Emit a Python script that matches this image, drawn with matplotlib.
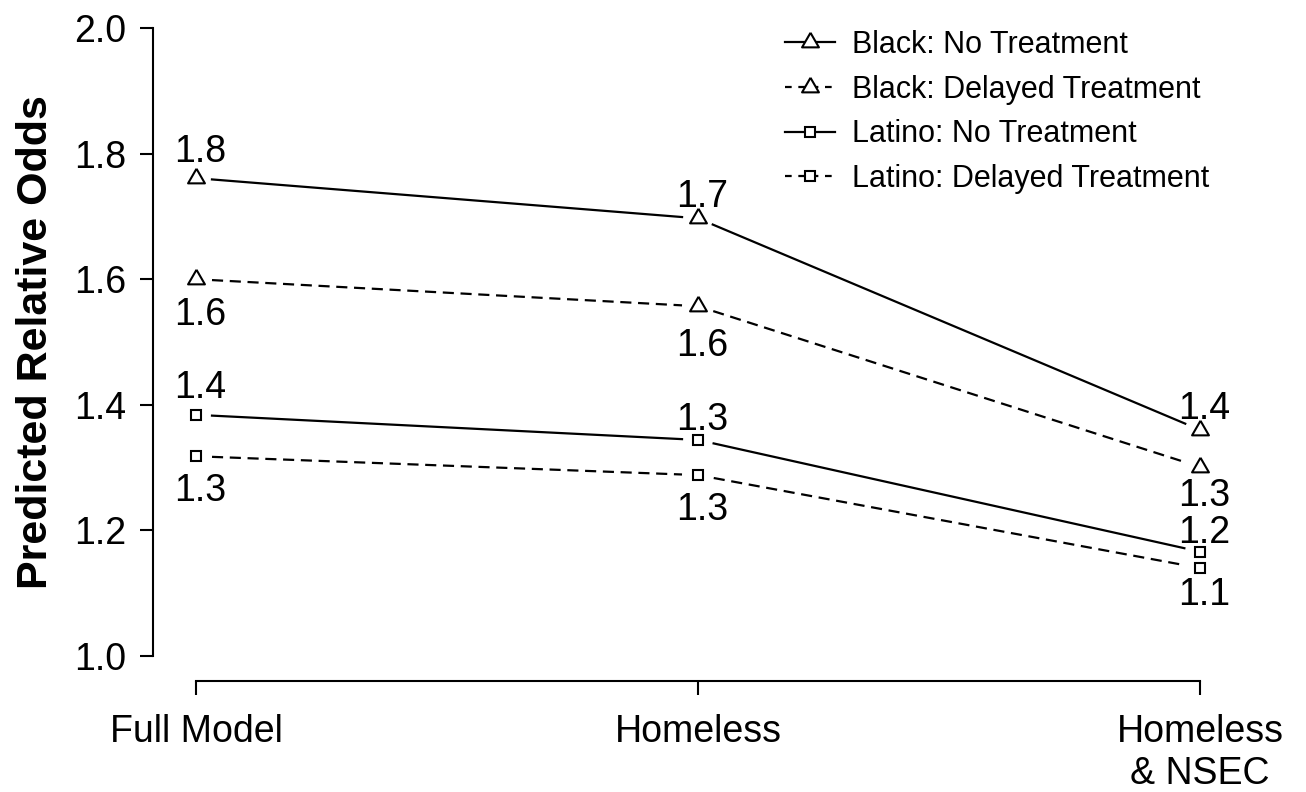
import numpy as np
import matplotlib.pyplot as plt
from matplotlib.lines import Line2D

plt.rcParams['font.family'] = ['Liberation Sans', 'DejaVu Sans']

models = ['Full Model', 'Homeless', 'Homeless\n& NSEC']
black_none = [1.761, 1.697, 1.360]
black_delayed = [1.600, 1.557, 1.301]
latino_none = [1.384, 1.344, 1.166]
latino_delayed = [1.318, 1.288, 1.140]

# label baseline offsets (points) from each point
off_black_none = [11.5, 8, 8]
off_black_delayed = [-33, -36, -28]
off_latino_none = [12, 7, 6]
off_latino_delayed = [-32.5, -32.5, -26.5]

series = [
    ('Black: No Treatment', black_none, '-', 'tri', off_black_none),
    ('Black: Delayed Treatment', black_delayed, '--', 'tri', off_black_delayed),
    ('Latino: No Treatment', latino_none, '-', 's', off_latino_none),
    ('Latino: Delayed Treatment', latino_delayed, '--', 's', off_latino_delayed),
]

# R style open triangle (equilateral)
tri = [(0, 1), (-0.866, -0.5), (0.866, -0.5), (0, 1)]

def marker_kw(mk):
    if mk == 'tri':
        return dict(marker=tri, ms=14)
    return dict(marker='s', ms=7)

fig = plt.figure(figsize=(13.06, 7.92), dpi=100)
ax = fig.add_axes([153 / 1306, 111 / 792, 1090 / 1306, 678 / 792])
ax.set_xlim(0.9143, 3.0857)
ax.set_ylim(0.96, 2.04)

x = [1, 2, 3]
gap = 16  # px left open around each point, like type="b"
to_px = ax.transData
to_data = ax.transData.inverted()

handles = []
for name, vals, ls, mk, offs in series:
    pts = to_px.transform(np.column_stack([x, vals]))
    for p0, p1 in zip(pts[:-1], pts[1:]):
        u = (p1 - p0) / np.hypot(*(p1 - p0))
        seg = to_data.transform([p0 + gap * u, p1 - gap * u])
        ln, = ax.plot(seg[:, 0], seg[:, 1], color='black', lw=1.6, ls=ls)
        if ls == '--':
            ln.set_dashes((5, 3))
    ax.plot(x, vals, ls='none', mfc='none', mec='black', mew=1.5, **marker_kw(mk))
    h = Line2D([], [], color='black', lw=1.6, ls=ls, mfc='white', mec='black',
               mew=1.5, **marker_kw(mk))
    if ls == '--':
        h.set_dashes((3, 3))
    handles.append(h)
    for xi, v, o in zip(x, vals, offs):
        ax.annotate('%.1f' % v, (xi, v), xytext=(3, o), textcoords='offset points',
                    ha='center', va='baseline', fontsize=27)

for s in ['top', 'right']:
    ax.spines[s].set_visible(False)
ax.spines['left'].set_bounds(1.0, 2.0)
ax.spines['bottom'].set_bounds(1, 3)
ax.spines['left'].set_linewidth(1.5)
ax.spines['bottom'].set_linewidth(1.5)

ax.set_yticks([1.0, 1.2, 1.4, 1.6, 1.8, 2.0])
ax.set_yticklabels(['1.0', '1.2', '1.4', '1.6', '1.8', '2.0'])
ax.set_xticks(x)
ax.set_xticklabels(models, linespacing=1.22)
ax.tick_params(axis='both', labelsize=27, width=1.5)
ax.tick_params(axis='y', length=9.5, pad=10)
ax.tick_params(axis='x', length=10, pad=14)

fig.text(36 / 1306, 1 - 342 / 792, 'Predicted Relative Odds', rotation=90,
         ha='center', va='center', fontsize=31, fontweight='bold')

fig.legend(handles, [s[0] for s in series], loc='upper left',
           bbox_to_anchor=(785 / 1306, 1 - 30 / 792), frameon=False, fontsize=22,
           handlelength=1.65, handletextpad=0.55, labelspacing=0.48,
           borderpad=0, borderaxespad=0)

fig.savefig('out.png', dpi=100)
